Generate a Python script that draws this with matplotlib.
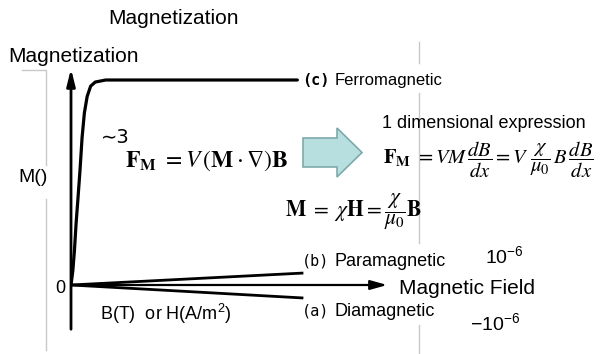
import matplotlib.pyplot as plt
from matplotlib.patches import FancyArrow

plt.rcParams['font.family'] = ['Liberation Sans', 'DejaVu Sans']

# curve data (arbitrary units, saturation of ferro = 1)
ferro_field = [0, 0.008, 0.015, 0.022, 0.03, 0.039, 0.048, 0.058, 0.07, 0.085, 0.105, 0.15, 0.98]
ferro_m = [0, 0.07, 0.17, 0.30, 0.42, 0.56, 0.72, 0.84, 0.92, 0.97, 0.99, 1.0, 1.0]
para_field = [0, 1.0]
para_m = [0, 0.058]
dia_field = [0, 1.0]
dia_m = [0, -0.063]

W, H = 601, 354
fig = plt.figure(figsize=(W / 100, H / 100), dpi=100)

# overlay in pixel coordinates for labels
ax = fig.add_axes([0, 0, 1, 1])
ax.set_xlim(0, W)
ax.set_ylim(H, 0)
ax.axis('off')

# curve axes: origin at (71, 285) px, 231 px per field unit, 205 px per M unit
x0, x1, y0, y1 = 71, 390, 66, 332
cax = fig.add_axes([x0 / W, (H - y1) / H, (x1 - x0) / W, (y1 - y0) / H])
cax.set_xlim(0, (x1 - x0) / 231)
cax.set_ylim(-(y1 - 285) / 205, (285 - y0) / 205)
cax.axis('off')
cax.patch.set_alpha(0)

cax.plot(ferro_field, ferro_m, color='black', lw=2.3, solid_capstyle='round')
cax.plot(para_field, para_m, color='black', lw=2.0)
cax.plot(dia_field, dia_m, color='black', lw=2.0)

# axes arrows
ylo, yhi = cax.get_ylim()
xlo, xhi = cax.get_xlim()
cax.annotate('', xy=(0, yhi), xytext=(0, ylo),
             arrowprops=dict(arrowstyle='-|>,head_length=1.0,head_width=0.25', color='black', lw=2.0),
             annotation_clip=False)
cax.annotate('', xy=(xhi, 0), xytext=(0, 0),
             arrowprops=dict(arrowstyle='-|>,head_length=1.0,head_width=0.28', color='black', lw=1.6),
             annotation_clip=False)

# grey guide lines
g = '#c8c8c8'
ax.plot([22, 46, 46], [70, 70, 165], color=g, lw=1)
ax.plot([46, 46], [199, 350], color=g, lw=1)
ax.plot([419, 419], [42, 63], color=g, lw=1)
ax.plot([419, 419], [93, 243], color=g, lw=1)
ax.plot([419, 419], [325, 354], color=g, lw=1)

# block arrow
ax.add_patch(FancyArrow(303, 152.5, 59, 0, width=29, head_width=49, head_length=25,
                        length_includes_head=True, facecolor='#b7dfe0', edgecolor='#7fa9aa', lw=1.2))

# labels
ax.text(174, 24, 'Magnetization', fontsize=15, ha='center', va='baseline')
ax.text(8, 62, 'Magnetization', fontsize=15, va='baseline')
ax.text(18, 182, 'M()', fontsize=14, va='baseline')
ax.text(55, 293, '0', fontsize=13, va='baseline')
ax.text(100, 320, r'B(T)  or H(A/m$\mathregular{^2}$)', fontsize=13, va='baseline')
ax.text(399, 294, 'Magnetic Field', fontsize=15, va='baseline')

ax.text(302, 85, '(c)', fontsize=11, va='baseline', family='DejaVu Sans Mono', weight='bold')
ax.text(335, 85, 'Ferromagnetic', fontsize=12, va='baseline')
ax.text(302, 266, '(b)', fontsize=11, va='baseline', family='DejaVu Sans Mono')
ax.text(335, 266, 'Paramagnetic', fontsize=13, va='baseline')
ax.text(302, 316, '(a)', fontsize=11, va='baseline', family='DejaVu Sans Mono')
ax.text(335, 316, 'Diamagnetic', fontsize=13, va='baseline')
ax.text(485, 263, r'$\mathregular{10^{-6}}$', fontsize=14, va='baseline')
ax.text(470, 330, r'$\mathregular{-10^{-6}}$', fontsize=14, va='baseline')

ax.text(101, 143, '\u223c3', fontsize=14, va='baseline', family=['DejaVu Sans'])
ax.text(382, 128, '1 dimensional expression', fontsize=13, va='baseline')

ax.text(125, 167, r'$\mathbf{F}_{\mathbf{M}}\ =V\,(\mathbf{M}\cdot\nabla)\mathbf{B}$',
        fontsize=17, va='baseline', math_fontfamily='stix')
ax.text(383, 160, r'$\mathbf{F}_{\mathbf{M}}\ =VM\,\dfrac{dB}{dx}=V\ \dfrac{\chi}{\mu_0}\,B\,\dfrac{dB}{dx}$',
        fontsize=14.8, va='center', math_fontfamily='stix')
ax.text(285, 212, r'$\mathbf{M}\ =\ \chi\mathbf{H}=\dfrac{\chi}{\mu_0}\mathbf{B}$',
        fontsize=15.5, va='center', math_fontfamily='stix')

fig.savefig('out.png', dpi=100)
